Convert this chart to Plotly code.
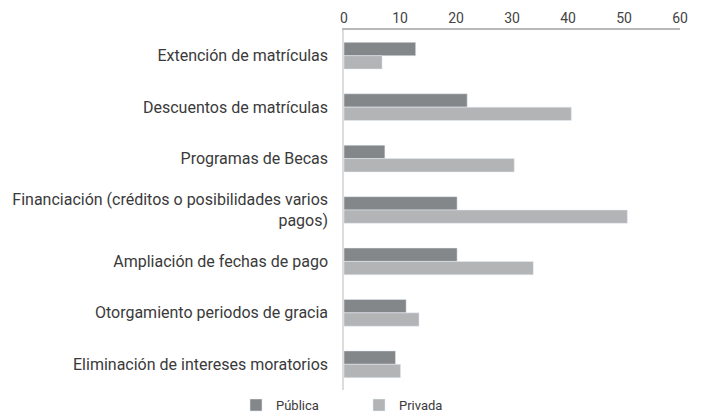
import plotly.graph_objects as go

categories = [
    "Extención de matrículas",
    "Descuentos de matrículas",
    "Programas de Becas",
    "Financiación (créditos o posibilidades varios<br>pagos)",
    "Ampliación de fechas de pago",
    "Otorgamiento periodos de gracia",
    "Eliminación de intereses moratorios",
]
publica = [12.8, 22.0, 7.3, 20.2, 20.2, 11.1, 9.2]
privada = [6.8, 40.6, 30.4, 50.6, 33.8, 13.4, 10.1]
x_ticks = [0, 10, 20, 30, 40, 50, 60]

fig = go.Figure()
fig.add_trace(go.Bar(y=categories, x=publica, name="Pública", orientation="h",
                     marker=dict(color="#84878a")))
fig.add_trace(go.Bar(y=categories, x=privada, name="Privada", orientation="h",
                     marker=dict(color="#b2b4b5")))

# page body has an 8px default margin, so the figure is offset by 8px
fig.update_layout(
    width=693, height=406,
    margin=dict(l=336, r=21, t=22, b=24, autoexpand=False),
    barmode="group", bargap=0.48, bargroupgap=0,
    plot_bgcolor="white", paper_bgcolor="white",
    font=dict(family="Roboto, sans-serif", size=16, color="#3a3a3a"),
    xaxis=dict(side="top", range=[0, 60], tickvals=x_ticks, showgrid=False,
               showline=True, linecolor="#b8b8b8", linewidth=1.5, zeroline=False,
               ticks="", tickfont=dict(size=14, color="#444444")),
    yaxis=dict(autorange="reversed", showgrid=False, showline=True,
               linecolor="#dcdcdc", linewidth=1.5, ticks="",
               ticklabelstandoff=11, tickfont=dict(size=16, color="#3a3a3a")),
    legend=dict(orientation="h", xref="container", yref="container",
                x=0.329, xanchor="left", y=0.022, yanchor="middle",
                font=dict(size=13, color="#3a3a3a"), itemwidth=30,
                entrywidth=78),
    showlegend=True,
)

fig.write_html("out.html")
